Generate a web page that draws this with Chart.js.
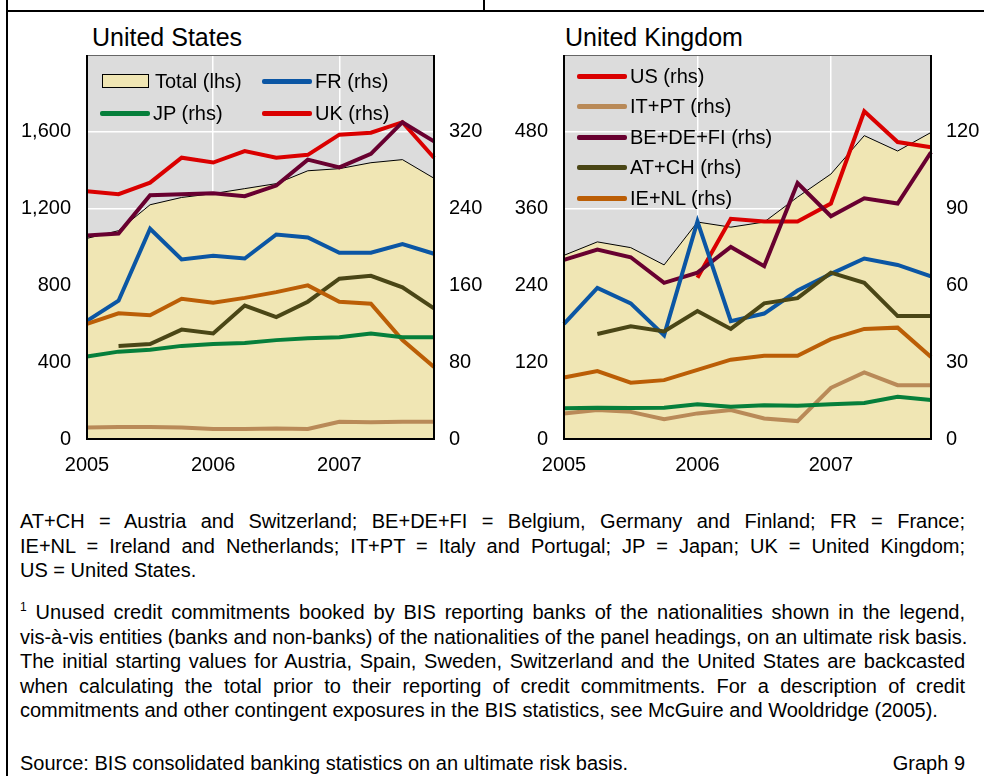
<!DOCTYPE html>
<html>
<head>
<meta charset="utf-8">
<script src="https://cdn.jsdelivr.net/npm/chart.js@4.4.0/dist/chart.umd.min.js"></script>
<style>
  body { margin: 0; width: 984px; height: 776px; position: relative; background: #fff; overflow: hidden;
         font-family: Arial, "Liberation Sans", sans-serif; color: #000; }
  .abs { position: absolute; }
  .title { font-size: 25px; line-height: 24px; white-space: nowrap; }
  .leg { position: absolute; height: 24px; display: flex; align-items: center; font-size: 20px; white-space: nowrap; }
  .leg .line { width: 50px; height: 5px; border-radius: 2px; margin-right: 3px; }
  .leg .box { width: 45px; height: 12px; border: 1px solid #000; margin-right: 6px; margin-left: 2px; }
  .note { position: absolute; left: 20px; width: 945px; font-size: 20px; line-height: 24.5px; white-space: nowrap; }
  .note div { text-align: justify; text-align-last: justify; }
  .note div.last { text-align-last: left; }
  sup { font-size: 12px; vertical-align: 8px; line-height: 0; }
</style>
</head>
<body>
<div class="abs" style="left:7px;top:10px;width:977px;height:2px;background:#000"></div>
<div class="abs" style="left:6px;top:0;width:2px;height:776px;background:#000"></div>
<div class="abs" style="left:483px;top:0;width:2px;height:10px;background:#000"></div>

<div class="abs title" style="left:92px;top:25px">United States</div>
<div class="abs title" style="left:565px;top:25px">United Kingdom</div>

<canvas id="usChart" class="abs" style="left:10px;top:50px"></canvas>
<canvas id="ukChart" class="abs" style="left:487px;top:50px"></canvas>
<div id="usLegend"></div>
<div id="ukLegend"></div>

<div class="note" style="top:509px">
  <div>AT+CH = Austria and Switzerland; BE+DE+FI = Belgium, Germany and Finland; FR = France;</div>
  <div>IE+NL = Ireland and Netherlands; IT+PT = Italy and Portugal; JP = Japan; UK = United Kingdom;</div>
  <div class="last">US = United States.</div>
</div>
<div class="note" style="top:600px">
  <div><sup>1</sup> Unused credit commitments booked by BIS reporting banks of the nationalities shown in the legend,</div>
  <div>vis-à-vis entities (banks and non-banks) of the nationalities of the panel headings, on an ultimate risk basis.</div>
  <div>The initial starting values for Austria, Spain, Sweden, Switzerland and the United States are backcasted</div>
  <div>when calculating the total prior to their reporting of credit commitments. For a description of credit</div>
  <div class="last">commitments and other contingent exposures in the BIS statistics, see McGuire and Wooldridge (2005).</div>
</div>
<div class="note" style="top:751px">
  <div class="last">Source: BIS consolidated banking statistics on an ultimate risk basis.<span style="float:right">Graph 9</span></div>
</div>

<script>
// quarterly observations, 2005 Q1 - 2007 Q4
const quarters = ['2005 Q1','2005 Q2','2005 Q3','2005 Q4','2006 Q1','2006 Q2','2006 Q3','2006 Q4',
                  '2007 Q1','2007 Q2','2007 Q3','2007 Q4'];

// United States panel (Total on lhs, the rest on rhs)
const usTotal = [1045, 1085, 1220, 1258, 1278, 1304, 1330, 1397, 1408, 1439, 1455, 1358];
const usFR    = [123, 144, 219, 187, 191, 188, 213, 210, 194, 194, 203, 193];
const usJP    = [86, 91, 93, 97, 99, 100, 103, 105, 106, 110, 106, 106];
const usUK    = [258, 255, 267, 293, 288, 300, 293, 296, 317, 319, 330, 293];
const usBE    = [212, 214, 254, 255, 256, 253, 264, 291, 283, 297, 330, 310];
const usAT    = [null, 97, 99, 114, 110, 139, 127, 143, 167, 170, 158, 136];
const usIE    = [120, 131, 129, 146, 142, 147, 153, 160, 143, 141, 103, 75];
const usIT    = [12, 12.5, 12.5, 12, 10.5, 10.5, 11, 10.5, 18, 17.5, 18, 18];

// United Kingdom panel
const ukTotal = [287, 308, 299, 272, 339, 331, 339, 378, 414, 474, 450, 479];
const ukUS    = [null, null, null, null, 63, 86, 85, 85, 92, 128, 116, 114];
const ukBE    = [70, 74, 71, 61, 65, 75, 67.5, 100, 87, 94, 92, 112];
const ukFR    = [45, 59, 53, 40.5, 85, 46, 49, 58, 64.5, 70.5, 68, 63.5];
const ukAT    = [null, 41, 44, 42, 50, 43, 53, 55, 65, 61, 48, 48];
const ukIE    = [24, 26.5, 22, 23, 27, 31, 32.5, 32.5, 39, 43, 43.5, 32];
const ukIT    = [10, 11.3, 10.6, 7.7, 10, 11.3, 8, 7, 20, 26, 21, 21];
const ukJP    = [12, 12.2, 12.1, 12.2, 13.6, 12.6, 13.2, 13, 13.6, 14.1, 16.5, 15.2];

// axis ticks
const usLeftTicks  = [0, 400, 800, 1200, 1600];
const usRightTicks = [0, 80, 160, 240, 320];
const ukLeftTicks  = [0, 120, 240, 360, 480];
const ukRightTicks = [0, 30, 60, 90, 120];

const colors = {
  Total: '#F0E6B4', FR: '#0B56A4', JP: '#067F3B', UK: '#DA0000', US: '#DA0000',
  'BE+DE+FI': '#680030', 'AT+CH': '#4A4616', 'IE+NL': '#BB5E06', 'IT+PT': '#B98A58'
};

Chart.defaults.font.family = 'Arial, "Liberation Sans", sans-serif';
Chart.defaults.color = '#000';

const plotFrame = {
  id: 'plotFrame',
  beforeDraw(chart) {
    const { ctx, chartArea: a } = chart;
    ctx.save();
    ctx.fillStyle = '#DCDCDC';
    ctx.fillRect(a.left, a.top, a.width, a.height);
    ctx.restore();
  },
  afterDraw(chart) {
    const { ctx, chartArea: a } = chart;
    ctx.save();
    ctx.strokeStyle = '#666';
    ctx.lineWidth = 1;
    ctx.beginPath();
    ctx.moveTo(a.left, a.top + 0.5);
    ctx.lineTo(a.right, a.top + 0.5);
    ctx.stroke();
    ctx.strokeStyle = '#000';
    ctx.lineWidth = 2;
    ctx.beginPath();
    ctx.moveTo(a.left, a.top);
    ctx.lineTo(a.left, a.bottom);
    ctx.lineTo(a.right, a.bottom);
    ctx.lineTo(a.right, a.top);
    ctx.stroke();
    ctx.restore();
  }
};

function lineSet(label, data) {
  return {
    label, data, yAxisID: 'y1', borderColor: colors[label], borderWidth: 4,
    pointRadius: 0, tension: 0, fill: false, spanGaps: false, order: 1
  };
}

function makeChart(id, w, h, leftW, rightW, total, lines, leftTicks, rightTicks) {
  const leftMax = leftTicks[4] * 1.25, rightMax = rightTicks[4] * 1.25;
  const canvas = document.getElementById(id);
  canvas.width = w; canvas.height = h;
  canvas.style.width = w + 'px'; canvas.style.height = h + 'px';
  const noPadV = (s, width) => { s.width = width; s.paddingTop = 0; s.paddingBottom = 0; };
  return new Chart(canvas, {
    type: 'line',
    data: {
      labels: quarters,
      datasets: [
        { label: 'Total', data: total, yAxisID: 'y', backgroundColor: colors.Total, borderColor: '#000',
          borderWidth: 1, pointRadius: 0, tension: 0, fill: 'origin', order: 10 },
        ...lines.map(([name, d]) => lineSet(name, d))
      ]
    },
    options: {
      responsive: false, animation: false, events: [],
      layout: { padding: { top: 5, left: 0, right: 0, bottom: 0 } },
      plugins: { legend: { display: false }, tooltip: { enabled: false } },
      scales: {
        x: {
          type: 'category', offset: false,
          afterFit: s => { s.height = 41; s.paddingLeft = 0; s.paddingRight = 0; },
          border: { display: false },
          grid: { drawTicks: false, lineWidth: 1.5,
                  color: c => (c.index > 0 && c.index % 4 === 0) ? '#fff' : 'rgba(0,0,0,0)' },
          ticks: { autoSkip: false, maxRotation: 0, padding: 14, font: { size: 20 },
                   callback: (v, i) => i % 4 === 0 ? quarters[i].slice(0, 4) : '' }
        },
        y: {
          position: 'left', min: 0, max: leftMax,
          afterFit: s => noPadV(s, leftW),
          afterBuildTicks: s => { s.ticks = leftTicks.map(v => ({ value: v })); },
          border: { display: false },
          grid: { drawTicks: false, lineWidth: 1.5,
                  color: c => (c.tick.value > 0) ? '#fff' : 'rgba(0,0,0,0)' },
          ticks: { padding: 16, font: { size: 20 }, callback: v => v.toLocaleString('en-US') }
        },
        y1: {
          position: 'right', min: 0, max: rightMax,
          afterFit: s => noPadV(s, rightW),
          afterBuildTicks: s => { s.ticks = rightTicks.map(v => ({ value: v })); },
          border: { display: false },
          grid: { drawOnChartArea: false, drawTicks: false },
          ticks: { padding: 15, font: { size: 20 } }
        }
      }
    },
    plugins: [plotFrame]
  });
}

const usChart = makeChart('usChart', 476, 430, 77, 52, usTotal,
  [['IT+PT', usIT], ['JP', usJP], ['IE+NL', usIE], ['AT+CH', usAT], ['FR', usFR], ['BE+DE+FI', usBE], ['UK', usUK]],
  usLeftTicks, usRightTicks);

const ukChart = makeChart('ukChart', 493, 430, 77, 49, ukTotal,
  [['JP', ukJP], ['IT+PT', ukIT], ['IE+NL', ukIE], ['AT+CH', ukAT], ['FR', ukFR], ['BE+DE+FI', ukBE], ['US', ukUS]],
  ukLeftTicks, ukRightTicks);

// legends drawn from the chart datasets
function buildLegend(el, chart, entries) {
  const holder = document.getElementById(el);
  entries.forEach(([name, x, y]) => {
    const ds = chart.data.datasets.find(d => d.label === name);
    const item = document.createElement('div');
    item.className = 'leg';
    item.style.left = x + 'px';
    item.style.top = (y - 12) + 'px';
    const sw = document.createElement('span');
    if (ds.fill === 'origin') {
      sw.className = 'box';
      sw.style.background = ds.backgroundColor;
    } else {
      sw.className = 'line';
      sw.style.background = ds.borderColor;
    }
    const tx = document.createElement('span');
    tx.textContent = name + (ds.yAxisID === 'y' ? ' (lhs)' : ' (rhs)');
    item.appendChild(sw);
    item.appendChild(tx);
    holder.appendChild(item);
  });
}

buildLegend('usLegend', usChart, [['Total', 100, 81], ['FR', 262, 81], ['JP', 100, 113], ['UK', 262, 113]]);
buildLegend('ukLegend', ukChart, [['US', 577, 76], ['IT+PT', 577, 106], ['BE+DE+FI', 577, 137], ['AT+CH', 577, 167], ['IE+NL', 577, 198]]);
</script>
</body>
</html>
